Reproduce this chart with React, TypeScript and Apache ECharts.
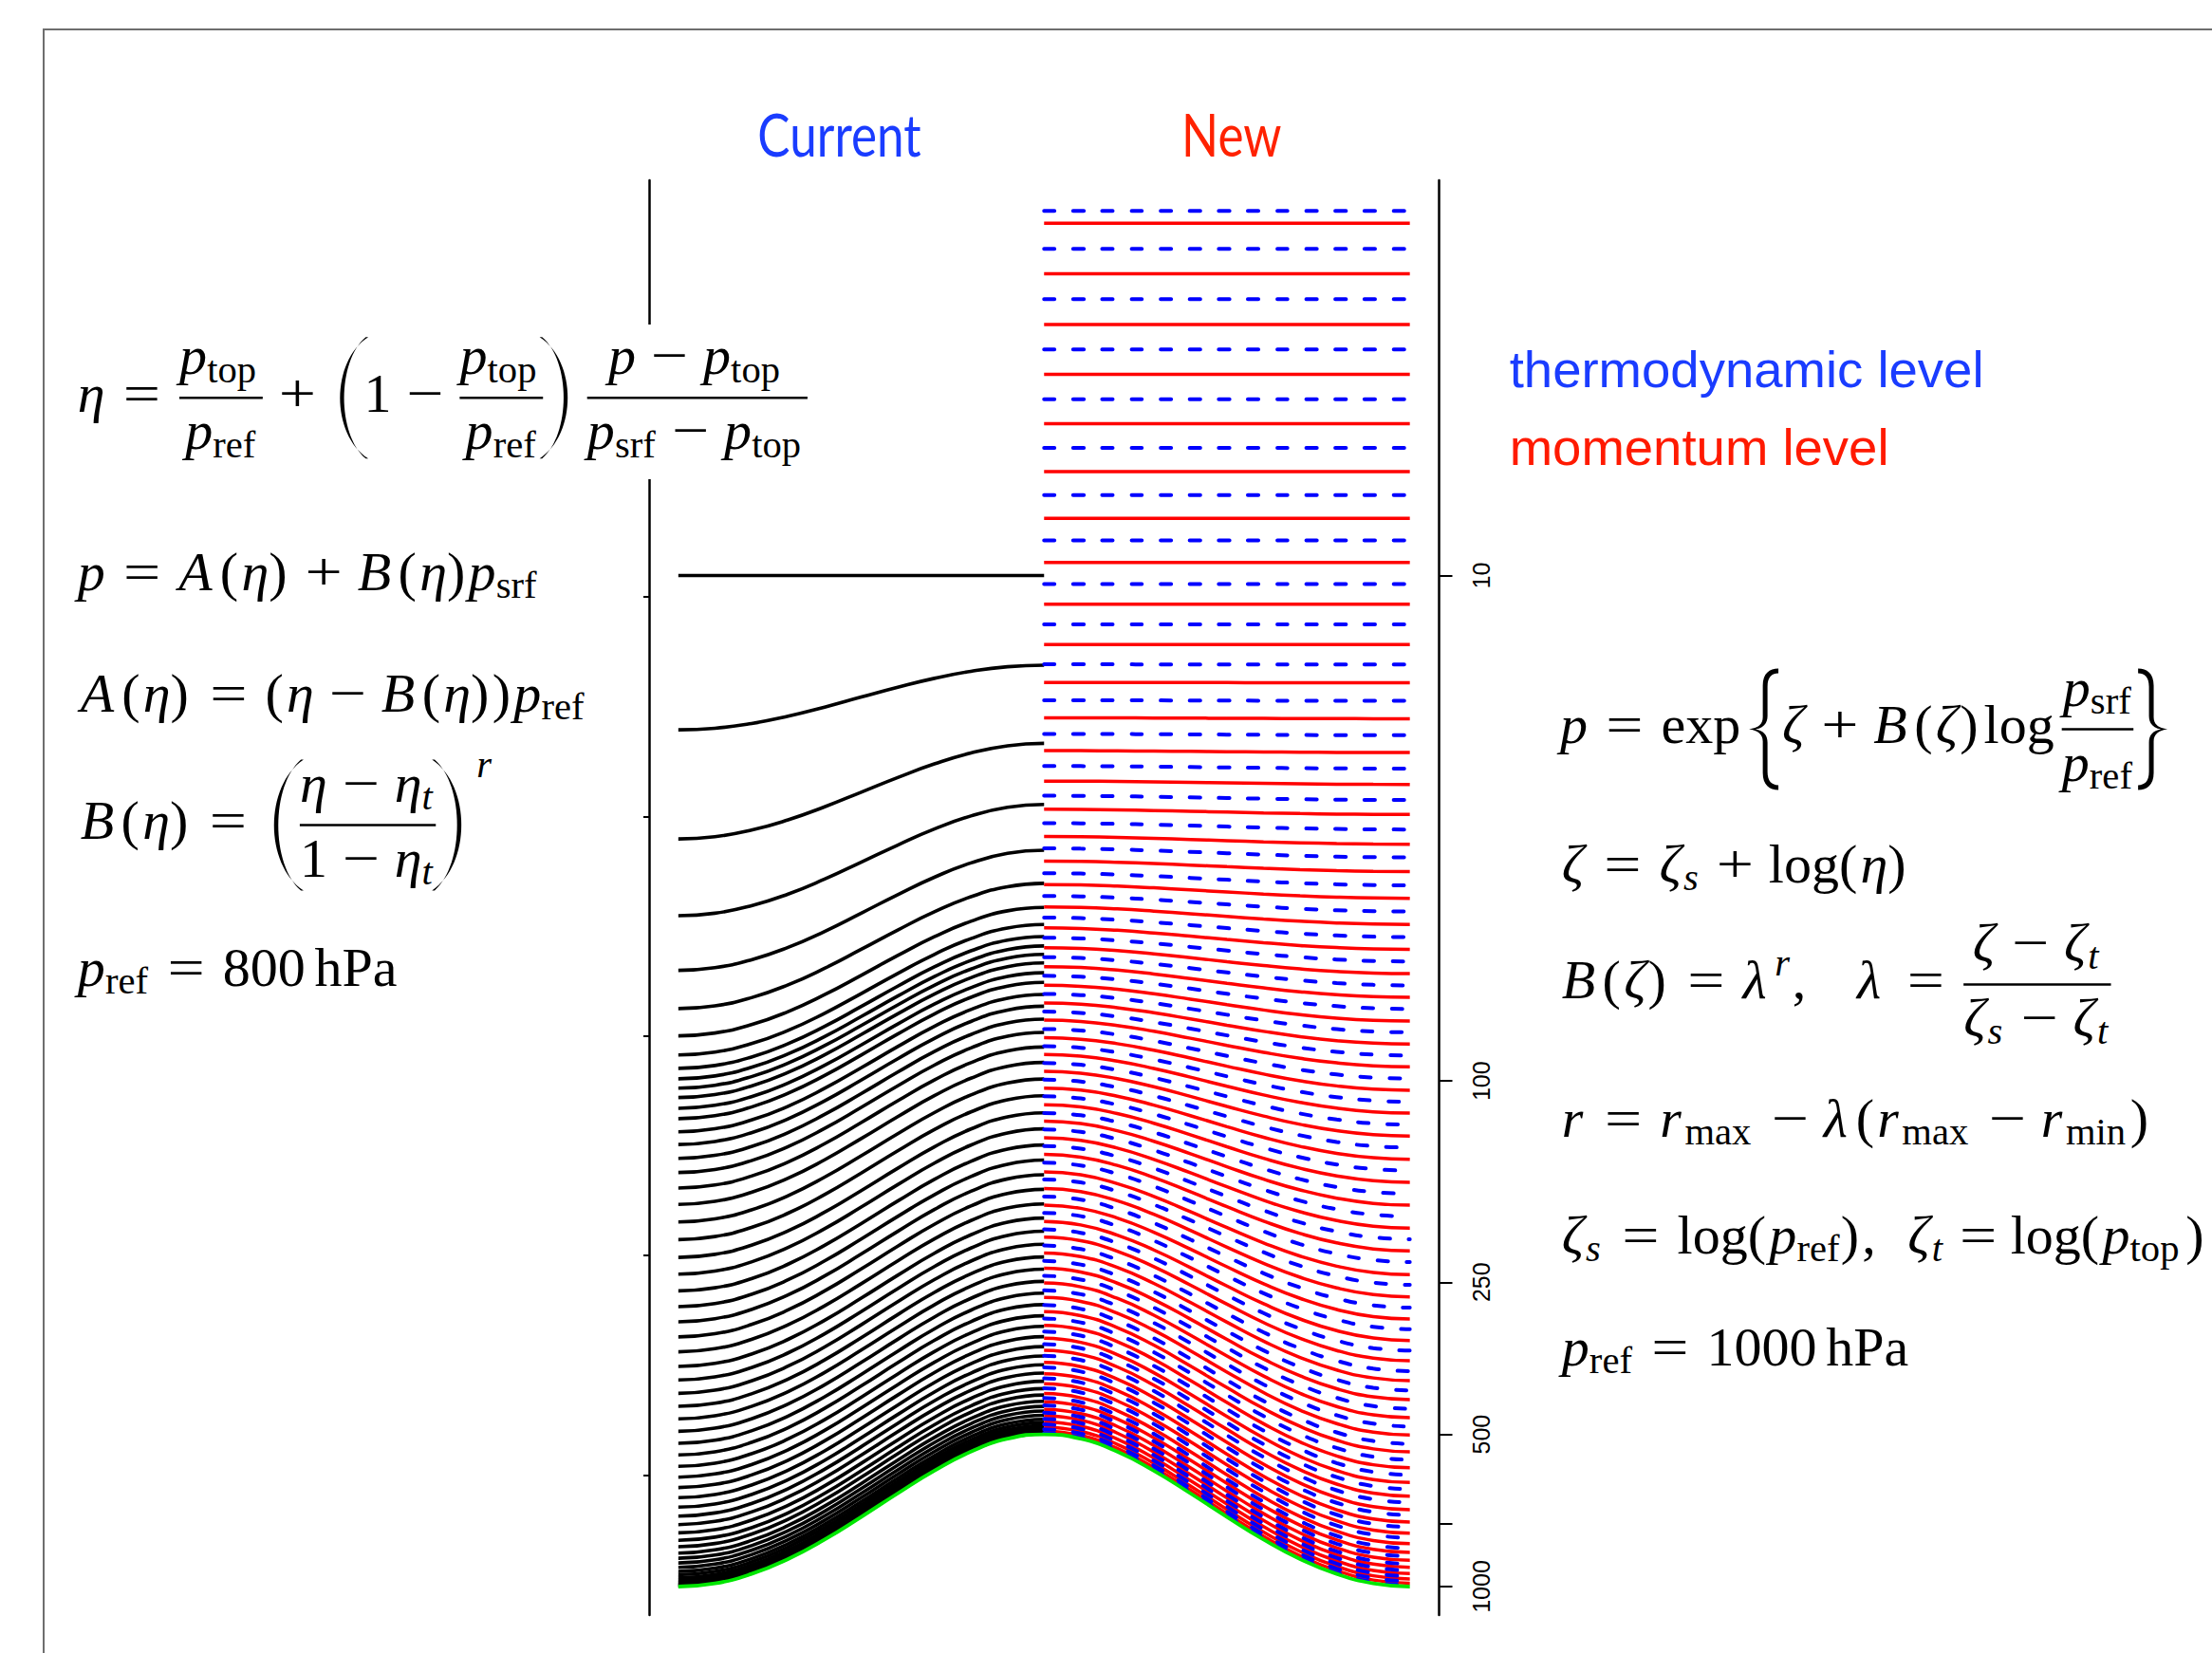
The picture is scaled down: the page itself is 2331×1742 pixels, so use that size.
import React, { useEffect, useRef } from 'react';
import * as echarts from 'echarts';

// ---------------- data ----------------
// horizontal position (0 = left edge, 0.5 = hill top, 1 = right edge) and surface pressure (hPa)
const surfaceX = [0, 0.05, 0.1, 0.15, 0.2, 0.25, 0.3, 0.35, 0.4, 0.45, 0.5, 0.55, 0.6, 0.65, 0.7, 0.75, 0.8, 0.85, 0.9, 0.95, 1];
const surfacePressure = [1000, 985.5, 944, 882, 807, 728, 654, 590, 541, 510, 500, 510, 541, 590, 654, 728, 807, 882, 944, 985.5, 1000];

// "Current" levels: pressure (hPa) of each level where p_srf = 1000 hPa
const currentModelTop = 10;
const currentLevels = [10, 20.2, 33.2, 47.1, 60.4, 71.9, 81.4, 88.8, 94.4, 99.0, 103.3, 107.8, 113.2, 118.7, 126.0, 133.5, 142.2, 151.7, 162.8, 175.4, 190.0, 205.9, 223.3, 241.0, 260.1, 279.4, 299.4, 320.7, 343.3, 366.9, 390.3, 414.7, 440.0, 465.9, 493.0, 520.8, 549.1, 578.3, 607.5, 637.0, 667.0, 696.5, 725.5, 754.0, 782.8, 810.0, 834.0, 858.5, 879.0, 898.0, 916.0, 933.0, 947.0, 960.0, 971.0, 980.0, 987.0, 993.0, 997.0];

// "New" levels: pressure (hPa) where p_srf = 1000 hPa
const newPref = 1000;
const newPtop = 10;
const newRMax = 3;
const newRMin = 0.2;
const newMomentumLevels = [2.01, 2.53, 3.19, 4.0, 5.01, 6.23, 7.71, 9.42, 11.4, 13.7, 16.3, 19.2, 22.4, 25.9, 29.7, 34.0, 38.5, 43.5, 49.0, 54.9, 61.3, 68.3, 76.1, 84.5, 93.7, 104.3, 115.7, 128.5, 142.8, 158.6, 176.0, 195.4, 216.8, 241.6, 267.3, 295.6, 326.1, 357.5, 391.4, 426.8, 463.4, 501.5, 541.3, 582.1, 622.6, 662.6, 704.7, 745.5, 784.1, 822.3, 856.1, 887.4, 916.0, 942.5, 966.0, 985.0];
const newThermoLevels = [1.9, 2.26, 2.84, 3.57, 4.48, 5.59, 6.93, 8.52, 10.4, 12.5, 15.0, 17.7, 20.7, 24.1, 27.8, 31.8, 36.1, 41.0, 46.2, 51.9, 58.0, 64.7, 72.0, 80.1, 89.0, 98.9, 109.9, 122.0, 135.4, 150.4, 167.1, 185.3, 205.6, 228.1, 253.0, 280.7, 309.7, 341.4, 374.9, 409.4, 445.1, 482.4, 522.2, 561.2, 601.4, 641.6, 681.6, 722.2, 762.6, 801.1, 840.1, 871.0, 902.0, 929.0, 954.0, 976.0, 994.0];

const axisPressureMin = 1.653;
const axisPressureMax = 1138.4;
const rightTickValues = [10, 100, 250, 500, 750, 1000];
const rightLabelValues = [10, 100, 250, 500, 1000];
const leftTickValues = [11.0, 30.0, 81.5, 221.4, 601.8];

// ---------------- delimiter shapes ----------------
let shapesRegistered = false;
function registerShapes() {
  if (shapesRegistered) return;
  shapesRegistered = true;
  const g: any = (echarts as any).graphic;
  g.registerShape('lparen', g.extendPath('M100 0 C10 20 10 80 100 100 L94 100 C25 80 25 20 94 0 Z', {}));
  g.registerShape('rparen', g.extendPath('M0 0 C90 20 90 80 0 100 L6 100 C75 80 75 20 6 0 Z', {}));
  g.registerShape('lbrace', g.extendPath('M100 0 C70 0 47 4 47 14 L47 40 C47 46 30 49 0 50 C30 51 47 54 47 60 L47 86 C47 96 70 100 100 100 L100 96 C78 96 63 93 63 85 L63 61 C63 55 50 51 22 50 C50 49 63 45 63 39 L63 15 C63 7 78 4 100 4 Z', {}));
  g.registerShape('rbrace', g.extendPath('M0 0 C30 0 53 4 53 14 L53 40 C53 46 70 49 100 50 C70 51 53 54 53 60 L53 86 C53 96 30 100 0 100 L0 96 C22 96 37 93 37 85 L37 61 C37 55 50 51 78 50 C50 49 37 45 37 39 L37 15 C37 7 22 4 0 4 Z', {}));
}

// ---------------- tiny math typesetter ----------------
const S = 58;
const SS = 40.6;
const TH = 0.278 * S;
const MD = 0.222 * S;
const TN = 0.167 * S;
const MF = '"Liberation Serif","Times New Roman",serif';
const CEN = 0.3375;
type Box = { w: number; r: (x: number, b: number, o: any[]) => void };
const RW: Record<string, number> = { '0': 0.5, '1': 0.5, '2': 0.5, '3': 0.5, '4': 0.5, '5': 0.5, '6': 0.5, '7': 0.5, '8': 0.5, '9': 0.5, '(': 0.389, ')': 0.389, ',': 0.278, a: 0.5, e: 0.444, f: 0.306, g: 0.5, h: 0.556, i: 0.278, l: 0.278, m: 0.833, n: 0.556, o: 0.5, p: 0.556, r: 0.392, s: 0.394, t: 0.389, x: 0.528, P: 0.681 };
const IW: Record<string, number> = { p: 0.503, A: 0.75, B: 0.74, r: 0.451, s: 0.469, t: 0.361, 'η': 0.497, 'ζ': 0.438, 'λ': 0.583 };

function textEl(x: number, y: number, s: string, size: number, italic: boolean, align: string, family = MF, color = '#000') {
  return {
    type: 'text', x, y, silent: true,
    style: { text: s, fontSize: size, fontFamily: family, fontStyle: italic ? 'italic' : 'normal', fontWeight: 'normal', fill: color, align, verticalAlign: 'middle' },
  };
}
const T = (s: string, it = false, size = S): Box => {
  let w = 0;
  for (const ch of s) w += ((it ? IW[ch] : RW[ch]) ?? 0.5) * size;
  return { w, r: (x, b, o) => o.push(textEl(x, b - CEN * size, s, size, it, 'left')) };
};
const Op = (s: string): Box => {
  const w = 0.778 * S;
  return { w, r: (x, b, o) => o.push({ ...textEl(x + w / 2, b - CEN * S, s, S, false, 'center'), scaleX: 1.2 }) };
};
const Sp = (px: number): Box => ({ w: px, r: () => {} });
const R = (...bs: Box[]): Box => ({
  w: bs.reduce((a, b) => a + b.w, 0),
  r: (x, b, o) => {
    let cx = x;
    for (const bx of bs) { bx.r(cx, b, o); cx += bx.w; }
  },
});
const Sub = (base: Box, sub: Box, drop = 0.15 * S): Box => ({
  w: base.w + sub.w,
  r: (x, b, o) => { base.r(x, b, o); sub.r(x + base.w, b + drop, o); },
});
const Sup = (base: Box, sup: Box, rise = 0.413 * S, kern = 0): Box => ({
  w: base.w + kern + sup.w,
  r: (x, b, o) => { base.r(x, b, o); sup.r(x + base.w + kern, b - rise, o); },
});
const Frac = (n: Box, d: Box): Box => {
  const nd = 1;
  const w = Math.max(n.w, d.w) + 2 * nd;
  return {
    w,
    r: (x, b, o) => {
      n.r(x + (w - n.w) / 2, b - 0.677 * S, o);
      d.r(x + (w - d.w) / 2, b + 0.686 * S, o);
      o.push({ type: 'rect', silent: true, shape: { x: x + nd, y: b - 0.25 * S - 1.3, width: w - 2 * nd, height: 2.6 }, style: { fill: '#000' } });
    },
  };
};
const Delim = (shape: string, w: number, dw: number, h: number): Box => ({
  w,
  r: (x, b, o) => {
    const axis = b - 0.25 * S;
    o.push({ type: shape, silent: true, x: x + (w - dw) / 2, y: axis - h / 2, scaleX: dw / 100, scaleY: h / 100, style: { fill: '#000' } });
  },
});

function buildFormulas(o: any[]) {
  const it = (s: string) => T(s, true);
  const sc = (s: string, itl = false) => T(s, itl, SS);
  const pTop = Sub(it('p'), sc('top'));
  const pRef = Sub(it('p'), sc('ref'));
  const pSrf = Sub(it('p'), sc('srf'));
  const eta = it('η');
  const zeta = it('ζ');
  const lam = it('λ');
  const etaT = Sub(it('η'), sc('t', true));
  const zetaS = Sub(it('ζ'), sc('s', true));
  const zetaT = Sub(it('ζ'), sc('t', true));
  const rMaxB = Sub(it('r'), sc('max'));
  const rMinB = Sub(it('r'), sc('min'));
  const eq = R(Sp(TH), Op('='), Sp(TH));
  const eqTight = R(Sp(0.2 * S), Op('='), Sp(0.2 * S));
  const plus = R(Sp(MD), Op('+'), Sp(MD));
  const minus = R(Sp(MD), Op('−'), Sp(MD));
  const lp = T('(');
  const rp = T(')');
  const fn = (f: string, a: Box) => R(it(f), lp, a, rp);

  const F1 = R(eta, eq, Frac(pTop, pRef), plus, Delim('lparen', 0.6 * S, 44, 128), T('1'), minus, Frac(pTop, pRef),
    Delim('rparen', 0.6 * S, 44, 128), Sp(TN), Frac(R(it('p'), minus, pTop), R(pSrf, minus, pTop)));
  const F2 = R(it('p'), eq, fn('A', eta), plus, fn('B', eta), pSrf);
  const F3 = R(fn('A', eta), eq, lp, eta, minus, fn('B', eta), rp, pRef);
  const F4core = R(fn('B', eta), eq, Delim('lparen', 0.62 * S, 46, 138), Frac(R(eta, minus, etaT), R(T('1'), minus, etaT)), Delim('rparen', 0.62 * S, 46, 138));
  const F4 = Sup(F4core, sc('r', true), 1.12 * S, 6);
  const F5 = R(pRef, eq, T('800'), Sp(TN), T('hPa'));

  const G1 = R(it('p'), eq, T('exp'), Sp(2), Delim('lbrace', 0.6 * S, 31, 128), Sp(2), zeta, plus, fn('B', zeta), Sp(0.05 * S), T('log'), Sp(0.12 * S),
    Frac(pSrf, pRef), Sp(2), Delim('rbrace', 0.6 * S, 31, 128));
  const G2 = R(zeta, eq, zetaS, plus, T('log'), lp, eta, rp);
  const G3 = R(fn('B', zeta), eq, Sup(lam, sc('r', true)), T(','), Sp(0.9 * S), lam, eq, Frac(R(zeta, minus, zetaT), R(zetaS, minus, zetaT)));
  const G4 = R(it('r'), eq, rMaxB, minus, lam, lp, rMaxB, minus, rMinB, rp);
  const G5 = R(zetaS, eq, T('log'), lp, pRef, rp, T(','), Sp(0.55 * S), zetaT, eqTight, T('log'), lp, pTop, rp);
  const G6 = R(pRef, eq, T('1000'), Sp(TN), T('hPa'));

  F1.r(81.8, 433.7, o);
  F2.r(81.8, 622, o);
  F3.r(84.7, 750, o);
  F4.r(84.7, 884, o);
  F5.r(81.8, 1039, o);
  G1.r(1644, 783, o);
  G2.r(1645.7, 930, o);
  G3.r(1645.7, 1052, o);
  G4.r(1645.7, 1198, o);
  G5.r(1645.7, 1321, o);
  G6.r(1645.7, 1438.7, o);
}

function buildGraphics() {
  const o: any[] = [];
  o.push({ type: 'polyline', silent: true, shape: { points: [[46, 1760], [46, 31], [2345, 31]] }, style: { stroke: '#6e6e6e', lineWidth: 2, fill: 'none' } });
  o.push({ type: 'rect', silent: true, shape: { x: 650, y: 342, width: 65, height: 163 }, style: { fill: '#ffffff' } });
  o.push({ ...textEl(884.5, 141, 'Current', 61, false, 'center', 'Lato, "Open Sans", sans-serif', '#1a3cff'), scaleX: 0.84 });
  o.push({ ...textEl(1297.8, 141, 'New', 61, false, 'center', 'Lato, "Open Sans", sans-serif', '#ff2200'), scaleX: 0.84 });
  o.push(textEl(1590.7, 389, 'thermodynamic level', 54.5, false, 'left', '"Liberation Sans", Arial, sans-serif', '#1a3cff'));
  o.push(textEl(1590.7, 471, 'momentum level', 54.5, false, 'left', '"Liberation Sans", Arial, sans-serif', '#ff1a00'));
  buildFormulas(o);
  return o.map((e) => ({ z: 10, ...e }));
}

// ---------------- series ----------------
const refSurface = surfacePressure[0];
function currentLine(pe: number) {
  // p = A + B * p_srf (terrain following from the model top)
  const B = (pe - currentModelTop) / (refSurface - currentModelTop);
  const A = currentModelTop * (1 - B);
  const pts: number[][] = [];
  surfaceX.forEach((x, i) => { if (x <= 0.5) pts.push([x, A + B * surfacePressure[i]]); });
  return pts;
}
function newLine(pe: number) {
  // p = exp{ zeta + B(zeta) log(p_srf / p_ref) }
  const lam = Math.min(1, Math.max(0, Math.log(pe / newPtop) / Math.log(newPref / newPtop)));
  const r = newRMax - lam * (newRMax - newRMin);
  const B = lam > 0 ? Math.pow(lam, r) : 0;
  const pts: number[][] = [];
  surfaceX.forEach((x, i) => { if (x >= 0.5) pts.push([x, pe * Math.pow(surfacePressure[i] / newPref, B)]); });
  return pts;
}
function line(data: number[][], color: string, width: number, type: any, z: number, cap = 'butt') {
  return {
    type: 'line', data, smooth: true, symbol: 'none', showSymbol: false, silent: true, z, yAxisIndex: 0,
    lineStyle: { color, width, type, cap, dashOffset: 0 },
    emphasis: { disabled: true },
  };
}

function buildOption() {
  const L0 = Math.log10(axisPressureMin);
  const L1 = Math.log10(axisPressureMax);
  const series: any[] = [];
  currentLevels.forEach((pe) => series.push(line(currentLine(pe), '#000000', 3.6, 'solid', 3)));
  newMomentumLevels.forEach((pe) => series.push(line(newLine(pe), '#ff0000', 3.5, 'solid', 3)));
  newThermoLevels.forEach((pe) => series.push(line(newLine(pe), '#0000ff', 4, [11, 19.7], 4, 'round')));
  series.push(line(surfaceX.map((x, i) => [x, surfacePressure[i]]), '#00e600', 3.8, 'solid', 5));
  return {
    animation: false,
    backgroundColor: '#ffffff',
    grid: { left: 684, top: 190, width: 832.5, height: 1512, containLabel: false },
    xAxis: { type: 'value', min: -0.04, max: 1.04, show: false },
    yAxis: [
      { type: 'log', min: axisPressureMin, max: axisPressureMax, inverse: true, show: false },
      {
        type: 'value', position: 'left', min: L0, max: L1, inverse: true,
        axisLine: { show: true, onZero: false, lineStyle: { color: '#000', width: 2.5 } },
        axisTick: { show: true, length: 6, customValues: leftTickValues.map(Math.log10), lineStyle: { color: '#000', width: 2 } },
        axisLabel: { show: false }, splitLine: { show: false },
      },
      {
        type: 'value', position: 'right', min: L0, max: L1, inverse: true,
        axisLine: { show: true, onZero: false, lineStyle: { color: '#000', width: 2.5 } },
        axisTick: { show: true, length: 14, customValues: rightTickValues.map(Math.log10), lineStyle: { color: '#000', width: 2 } },
        axisLabel: {
          show: true, customValues: rightLabelValues.map(Math.log10), rotate: 90, margin: 32, fontSize: 25,
          fontFamily: '"Liberation Sans", Arial, sans-serif', color: '#000',
          formatter: (v: number) => String(Math.round(Math.pow(10, v))),
        },
        splitLine: { show: false },
      },
    ],
    series,
    graphic: { elements: buildGraphics() },
  };
}

export default function App() {
  const ref = useRef<HTMLDivElement>(null);
  useEffect(() => {
    registerShapes();
    const chart = echarts.init(ref.current!, null, { renderer: 'svg' });
    chart.setOption(buildOption() as any);
    return () => chart.dispose();
  }, []);
  return <div ref={ref} style={{ position: 'fixed', left: 0, top: 0, width: 2331, height: 1742, background: '#fff' }} />;
}
